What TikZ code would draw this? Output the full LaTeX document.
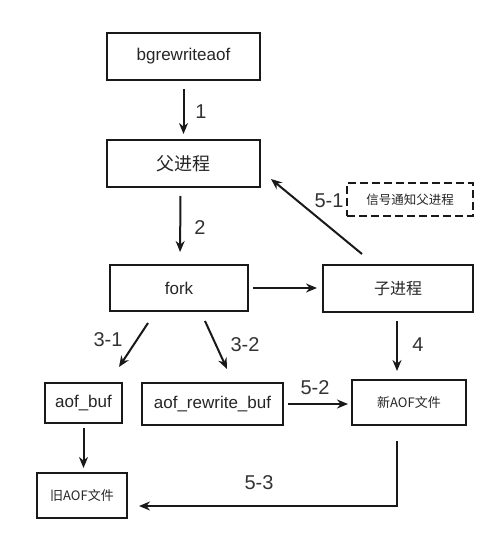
\documentclass[tikz,border=0pt]{standalone}
\usepackage{fontspec}
\setmainfont{Liberation Sans}
\newfontfamily\cjk{Noto Sans CJK SC}
\usetikzlibrary{arrows.meta}
\begin{document}
\begin{tikzpicture}[x=1pt,y=-1pt,
  box/.style={draw=black!90, line width=2pt, inner sep=0pt, text=black!85},
  dbox/.style={box, dashed, dash pattern=on 8pt off 4pt},
  arr/.style={draw=black!90, line width=2pt, -{Stealth[length=11pt,width=9pt]}},
  lbl/.style={font=\fontsize{20}{20}\selectfont, text=black!80, inner sep=0pt},
  latin/.style={font=\fontsize{17}{17}\selectfont},
  zh/.style={font=\cjk\fontsize{#1}{#1}\selectfont}
]
\fill[white] (0,0) rectangle (499,540);
\useasboundingbox (0,0) rectangle (499,540);

% boxes
\node[box, latin, minimum width=153pt, minimum height=47pt] (bg) at (183.5,56.5) {bgrewriteaof};
\node[box, zh=18, minimum width=153pt, minimum height=47pt] (parent) at (183.5,163.5) {父进程};
\node[box, latin, minimum width=138pt, minimum height=46pt] (fork) at (179,288) {fork};
\node[box, zh=16, minimum width=150pt, minimum height=47pt] (child) at (398,288.5) {子进程};
\node[dbox, zh=12.5, minimum width=126pt, minimum height=33pt] (sig) at (410,199.5) {信号通知父进程};
\node[box, latin, minimum width=77pt, minimum height=40pt] (aofbuf) at (83.5,403) {aof\_buf};
\node[box, latin, minimum width=141pt, minimum height=42pt] (arbuf) at (212.5,404) {aof\_rewrite\_buf};
\node[box, zh=13, minimum width=114pt, minimum height=45pt] (newaof) at (409,402.5) {新AOF文件};
\node[box, zh=13, minimum width=90pt, minimum height=45pt] (oldaof) at (82,495.5) {旧AOF文件};

% connectors
\draw[arr, shorten <=8pt, shorten >=5pt] (bg.south) -- (parent.north);
\draw[arr, shorten <=8pt, shorten >=12pt] ([xshift=-3pt]parent.south) -- ([xshift=1pt]fork.north);
\draw[arr, shorten <=4pt, shorten >=5pt] (fork.east) -- (fork.east -| child.west);
\draw[arr] ([xshift=-36pt,yshift=10pt]child.north) -- ([xshift=10pt,yshift=9pt]parent.south east);
\draw[arr] ([xshift=-31pt,yshift=-11pt]fork.south) -- ([xshift=-4pt,yshift=15pt]aofbuf.north east);
\draw[arr] ([xshift=26pt,yshift=-9pt]fork.south) -- ([xshift=14.5pt,yshift=13pt]arbuf.north);
\draw[arr] ([xshift=-1pt,yshift=-8pt]child.south) -- ([xshift=-12pt,yshift=8pt]newaof.north);
\draw[arr, shorten <=4pt, shorten >=3pt] (arbuf.east) -- (arbuf.east -| newaof.west);
\draw[arr, shorten <=4pt, shorten >=4pt] (aofbuf.south) -- (aofbuf.south |- oldaof.north);
\coordinate (c53) at (397,506);
\draw[arr, shorten >=11pt] ([xshift=-12pt,yshift=-15pt]newaof.south) -- (c53) -- (c53 -| oldaof.east);

% labels
\node[lbl] (l1) at (201,112) {1};
\node[lbl] (l2) at (200,228) {2};
\node[lbl] (l31) at (108,340) {3-1};
\node[lbl] (l32) at (245,345) {3-2};
\node[lbl] (l4) at (418,345) {4};
\node[lbl] (l51) at (329,201) {5-1};
\node[lbl] (l52) at (315,388) {5-2};
\node[lbl] (l53) at (259,483) {5-3};
\end{tikzpicture}
\end{document}
